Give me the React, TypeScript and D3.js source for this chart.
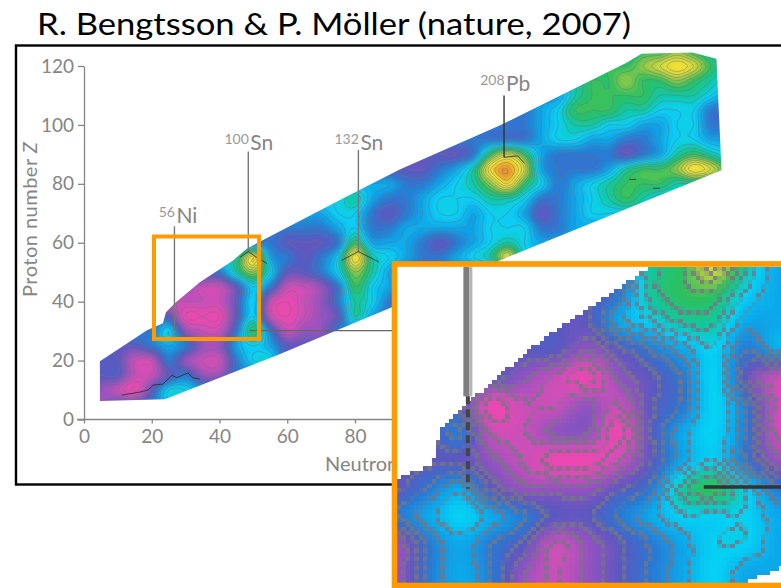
import React, { useEffect, useRef } from 'react';
import * as d3 from 'd3';

// shell correction levels, hex digit per node (0 pink ... c orange)
// each row is one Z (125 down to 0), each char one N (0, 5, ... 190)
const zRows = d3.range(125, -1, -5);
const shellRows = [
  '77777 77777 77777 77777 77777 77777 77788 9877',
  '77777 77777 77777 77777 77777 77777 7889a ba87',
  '77777 77777 77777 77777 77777 77777 88988 9876',
  '55555 55555 55555 55555 55555 55557 88887 7765',
  '44444 44444 44444 44444 44444 44568 88776 6644',
  '44444 44444 44444 44444 44444 44567 76655 6644',
  '44444 44444 44444 44444 44444 44566 55445 6655',
  '33333 33333 33333 33333 33348 a8544 44345 7876',
  '33333 33333 33333 33333 3457b ca544 45788 9ba8',
  '55555 55555 55555 55554 45679 b8645 67888 7777',
  '66666 66666 66666 67544 56667 76445 67876 6666',
  '55555 55555 55555 66434 56656 65345 66666 6666',
  '44444 44444 44444 56445 55556 66445 55555 5555',
  '44444 44444 44333 48555 43456 76555 55555 5555',
  '66666 66667 b5434 6b765 44567 a6666 66666 6666',
  '44444 44447 96334 69754 44444 44444 44444 4444',
  '22222 22113 64112 48654 44444 44444 44444 4444',
  '11111 11113 61012 47643 44444 44444 44444 4444',
  '33333 30003 61012 37544 44444 44444 44444 4444',
  '44444 62114 84122 44444 44444 44444 44444 4444',
  '33334 54225 65333 33333 33333 33333 33333 3333',
  '33311 42114 66333 33333 33333 33333 33333 3333',
  '33311 34224 44444 44444 44444 44444 44444 4444',
  '22103 66555 55555 55555 55555 55555 55555 5555',
  '22334 66666 66666 66666 66666 66666 66666 6666',
  '22334 66666 66666 66666 66666 66666 66666 6666',
];

// finer read of the magnified window, N 20..56 and Z 54..18 in steps of 3
const insetN = d3.range(20, 57, 3);
const insetZ = d3.range(54, 17, -3);
const insetRows = [
  '3333333378a75',
  '3333333478865',
  '3333333567755',
  '3333332345645',
  '3333210234631',
  '3330112134641',
  '3341122035641',
  '3332100135642',
  '3453222347864',
  '4565433456665',
  '2454312345665',
  '2454212345655',
  '2454212345655',
];

const levelDomain = [0, 1, 2, 3, 4, 5, 6, 7, 8, 9, 10, 11, 12];
const levelColors = ['#ea48b0', '#c850b8', '#9452c0', '#5c58c0', '#2a78d2', '#0ca8ea', '#06d0f4', '#10c8a2', '#2cc060', '#8ec848', '#d2d83e', '#f2e030', '#e8922e'];

const xTicks = [0, 20, 40, 60, 80, 100, 120, 140, 160, 180];
const yTicks = [0, 20, 40, 60, 80, 100, 120];

// footprint of the nuclear chart, [N, Z]
const outline: [number, number][] = [
  [4.7, 6.3], [4.7, 19.8], [18.6, 30.3], [23.3, 32.7], [24.2, 36.4], [26.8, 39.5], [34.2, 46.6], [44, 54], [48, 58],
  [76.4, 75], [93.2, 84.9], [122.7, 99.8], [160, 121], [164.6, 124.2], [179.6, 124.6], [186.7, 122.5], [188.2, 84.6],
  [122.7, 54], [90.9, 38.1], [56.3, 21.5], [23.9, 6.9],
];

const leaders = [
  { mass: '56', symbol: 'Ni', n: 26.7, top: 65.6, bottom: 30, labelZ: 66.6 },
  { mass: '100', symbol: 'Sn', n: 48.5, top: 91, bottom: 57, labelZ: 91.5 },
  { mass: '132', symbol: 'Sn', n: 81, top: 91.5, bottom: 57, labelZ: 91.5 },
  { mass: '208', symbol: 'Pb', n: 124, top: 110, bottom: 89, labelZ: 111.5 },
];

// black artefacts on the surface
const streaks: [number, number][][] = [
  [[46, 55], [48.5, 57], [51, 55], [54, 53]],
  [[76, 54], [81, 57], [87, 53.5]],
  [[124, 89], [128, 89.5], [130, 87]],
  [[11.2, 8.3], [16.5, 9.3], [18.9, 10], [20.4, 11.7], [23.3, 12], [26, 15], [27.4, 14.2], [30.7, 15.8], [32.2, 14.1], [34.2, 13.7]],
  [[161, 81.5], [163, 81.5]],
  [[168, 78.5], [170, 78.5]],
];

const parseRows = (rows: string[]) => rows.map((r) => r.replace(/ /g, '').split('').map((c) => parseInt(c, 16)));

// Catmull-Rom read of a level grid at fractional node position, only to round the drawn contours
const cubic = (a: number, b: number, c: number, d: number, t: number) =>
  b + 0.5 * t * (c - a + t * (2 * a - 5 * b + 4 * c - d + t * (3 * (b - c) + d - a)));
const sampleGrid = (grid: number[][], fc: number, fr: number) => {
  const at = (r: number, c: number) =>
    grid[Math.max(0, Math.min(grid.length - 1, r))][Math.max(0, Math.min(grid[0].length - 1, c))];
  const c0 = Math.floor(fc);
  const r0 = Math.floor(fr);
  const row = (r: number) => cubic(at(r, c0 - 1), at(r, c0), at(r, c0 + 1), at(r, c0 + 2), fc - c0);
  return cubic(row(r0 - 1), row(r0), row(r0 + 1), row(r0 + 2), fr - r0);
};

export default function App() {
  const ref = useRef<SVGSVGElement>(null);

  useEffect(() => {
    const svg = d3.select(ref.current);
    svg.selectAll('*').remove();

    const x = d3.scaleLinear().domain([0, 80]).range([84, 355]);
    const y = d3.scaleLinear().domain([0, 120]).range([419.5, 66]);
    const color = d3.scaleLinear<string>().domain(levelDomain).range(levelColors).clamp(true);

    const orange = '#ff9a00';
    const grey = '#858585';
    const labelFont = 'Lato, "Open Sans", sans-serif';

    svg
      .append('text')
      .attr('x', 37)
      .attr('y', 34.5)
      .attr('font-family', 'Lato, sans-serif')
      .attr('font-size', 30)
      .attr('fill', '#000')
      .attr('textLength', 594)
      .attr('lengthAdjust', 'spacingAndGlyphs')
      .text('R. Bengtsson & P. Möller (nature, 2007)');

    svg
      .append('rect')
      .attr('x', 16)
      .attr('y', 45.5)
      .attr('width', 800)
      .attr('height', 439)
      .attr('fill', '#fff')
      .attr('stroke', '#000')
      .attr('stroke-width', 2.4);

    const defs = svg.append('defs');
    defs
      .append('clipPath')
      .attr('id', 'footprint')
      .append('polygon')
      .attr('points', outline.map(([n, z]) => `${x(n)},${y(z)}`).join(' '));
    defs.append('filter').attr('id', 'soft').append('feGaussianBlur').attr('stdDeviation', 0.45);

    // contoured surface
    const grid = parseRows(shellRows);
    const fine = 4;
    const nCols = (grid[0].length - 1) * fine + 1;
    const nRows = (zRows.length - 1) * fine + 1;
    const values: number[] = [];
    for (let r = 0; r < nRows; r++) {
      for (let c = 0; c < nCols; c++) values.push(sampleGrid(grid, c / fine, r / fine));
    }
    const thresholds = d3.range(-1, 13.01, 0.25);
    const contours = d3.contours().size([nCols, nRows]).thresholds(thresholds)(values);
    const path = d3.geoPath(
      d3.geoTransform({
        point(gx: number, gy: number) {
          (this as any).stream.point(x(((gx - 0.5) * 5) / fine), y(125 - ((gy - 0.5) * 5) / fine));
        },
      })
    );

    const field = svg.append('g').attr('clip-path', 'url(#footprint)').append('g').attr('filter', 'url(#soft)');
    field
      .selectAll('path')
      .data(contours)
      .enter()
      .append('path')
      .attr('d', (d) => path(d as any))
      .attr('fill', (d) => color(d.value + 0.12))
      .attr('stroke', (d) => (d.value % 0.5 === 0 ? '#6d7280' : 'none'))
      .attr('stroke-width', 0.7)
      .attr('stroke-opacity', 0.65);

    // axes
    const yAxis = svg
      .append('g')
      .attr('transform', `translate(${x(0)},0)`)
      .call(d3.axisLeft(y).tickValues(yTicks).tickSize(6).tickPadding(4).tickSizeOuter(0));
    const xAxis = svg
      .append('g')
      .attr('transform', `translate(0,${y(0)})`)
      .call(d3.axisBottom(x).tickValues(xTicks).tickSize(4).tickPadding(6).tickSizeOuter(0));
    [xAxis, yAxis].forEach((a) => {
      a.selectAll('path,line').attr('stroke', grey).attr('stroke-width', 1.3);
      a.selectAll('text').attr('fill', grey).attr('font-family', labelFont).attr('font-size', 19);
    });
    xAxis.select('path').attr('d', `M${x(0) - 7},0H${x(180)}`);

    svg
      .append('text')
      .attr('transform', 'translate(37,297) rotate(-90)')
      .attr('fill', grey)
      .attr('font-family', labelFont)
      .attr('font-size', 20)
      .attr('textLength', 155)
      .html('Proton number <tspan font-style="italic">Z</tspan>');
    svg
      .append('text')
      .attr('x', 325)
      .attr('y', 471)
      .attr('fill', grey)
      .attr('font-family', labelFont)
      .attr('font-size', 20)
      .html('Neutron number <tspan font-style="italic">N</tspan>');

    // leader lines and nuclide labels
    const lineGen = d3
      .line<[number, number]>()
      .x((d) => x(d[0]))
      .y((d) => y(d[1]));
    leaders.forEach((l) => {
      svg
        .append('line')
        .attr('x1', x(l.n))
        .attr('x2', x(l.n))
        .attr('y1', y(l.top))
        .attr('y2', y(l.bottom))
        .attr('stroke', l.symbol === 'Pb' ? '#333' : '#777')
        .attr('stroke-width', 1.4);
      svg
        .append('text')
        .attr('x', x(l.n) + 0.5)
        .attr('y', y(l.labelZ) - 6)
        .attr('text-anchor', 'end')
        .attr('fill', '#999')
        .attr('font-family', labelFont)
        .attr('font-size', 14)
        .text(l.mass);
      svg
        .append('text')
        .attr('x', x(l.n) + 2)
        .attr('y', y(l.labelZ))
        .attr('fill', grey)
        .attr('font-family', labelFont)
        .attr('font-size', 21)
        .text(l.symbol);
    });
    svg
      .append('line')
      .attr('x1', x(49))
      .attr('x2', x(100))
      .attr('y1', y(30.2))
      .attr('y2', y(30.2))
      .attr('stroke', '#666')
      .attr('stroke-width', 1.3);

    svg
      .append('g')
      .selectAll('path')
      .data(streaks)
      .enter()
      .append('path')
      .attr('d', (d) => lineGen(d))
      .attr('fill', 'none')
      .attr('stroke', '#222')
      .attr('stroke-opacity', 0.8)
      .attr('stroke-width', 0.9);

    // small selection box
    svg
      .append('rect')
      .attr('x', 154)
      .attr('y', 236.5)
      .attr('width', 105)
      .attr('height', 102.5)
      .attr('fill', 'none')
      .attr('stroke', orange)
      .attr('stroke-width', 4);

    // magnified, pixelated window
    const ix = d3.scaleLinear().domain([20, 56.3]).range([397, 781]);
    const iy = d3.scaleLinear().domain([54, 19.8]).range([267, 583]);
    const cell = 4.33;
    const inset = parseRows(insetRows);
    const sample = (n: number, z: number) =>
      sampleGrid(inset, Math.max(0, (n - insetN[0]) / 3), Math.max(0, (insetZ[0] - z) / 3));

    svg
      .append('rect')
      .attr('x', 392)
      .attr('y', 262)
      .attr('width', 400)
      .attr('height', 326)
      .attr('fill', '#fff');

    const nCells = d3.range(0, Math.ceil((781 - 397) / cell));
    const zCells = d3.range(0, Math.ceil((583 - 267) / cell));
    const tiles = svg.append('g').attr('shape-rendering', 'crispEdges');
    const band = (t: number) => Math.floor(t * 1.4 + 0.5);
    zCells.forEach((j) => {
      nCells.forEach((i) => {
        const n = ix.invert(397 + (i + 0.5) * cell);
        const z = iy.invert(267 + (j + 0.5) * cell);
        if (!d3.polygonContains(outline, [n, z])) return;
        const v = sample(n, z);
        const right = sample(ix.invert(397 + (i + 1.5) * cell), z);
        const below = sample(n, iy.invert(267 + (j + 1.5) * cell));
        const crossing = band(v) !== band(right) || band(v) !== band(below);
        const base = color(v);
        const fill = crossing ? d3.interpolateRgb(base, '#757585')((i + j) % 2 ? 0.8 : 0.3) : base;
        tiles
          .append('rect')
          .attr('x', 397 + i * cell)
          .attr('y', 267 + j * cell)
          .attr('width', cell + 0.5)
          .attr('height', cell + 0.5)
          .attr('fill', fill);
      });
    });

    svg
      .append('rect')
      .attr('x', ix(26.7) - 4.5)
      .attr('y', 267)
      .attr('width', 6)
      .attr('height', iy(40) - 267)
      .attr('fill', '#7d7d7d');
    svg
      .append('rect')
      .attr('x', ix(26.7) + 1.5)
      .attr('y', 267)
      .attr('width', 3)
      .attr('height', iy(40) - 267)
      .attr('fill', '#b5b5b5');
    svg
      .append('line')
      .attr('x1', ix(26.7))
      .attr('x2', ix(26.7))
      .attr('y1', iy(40))
      .attr('y2', iy(30))
      .attr('stroke', '#444')
      .attr('stroke-width', 4)
      .attr('stroke-dasharray', '8 5');
    svg
      .append('line')
      .attr('x1', ix(49))
      .attr('x2', 781)
      .attr('y1', iy(30.2))
      .attr('y2', iy(30.2))
      .attr('stroke', '#333')
      .attr('stroke-width', 3.5);

    svg
      .append('rect')
      .attr('x', 394.5)
      .attr('y', 264)
      .attr('width', 400)
      .attr('height', 321.5)
      .attr('fill', 'none')
      .attr('stroke', orange)
      .attr('stroke-width', 5.6);
  }, []);

  return <svg ref={ref} width={781} height={588} style={{ position: 'absolute', left: 0, top: 0, background: '#fff' }} />;
}
